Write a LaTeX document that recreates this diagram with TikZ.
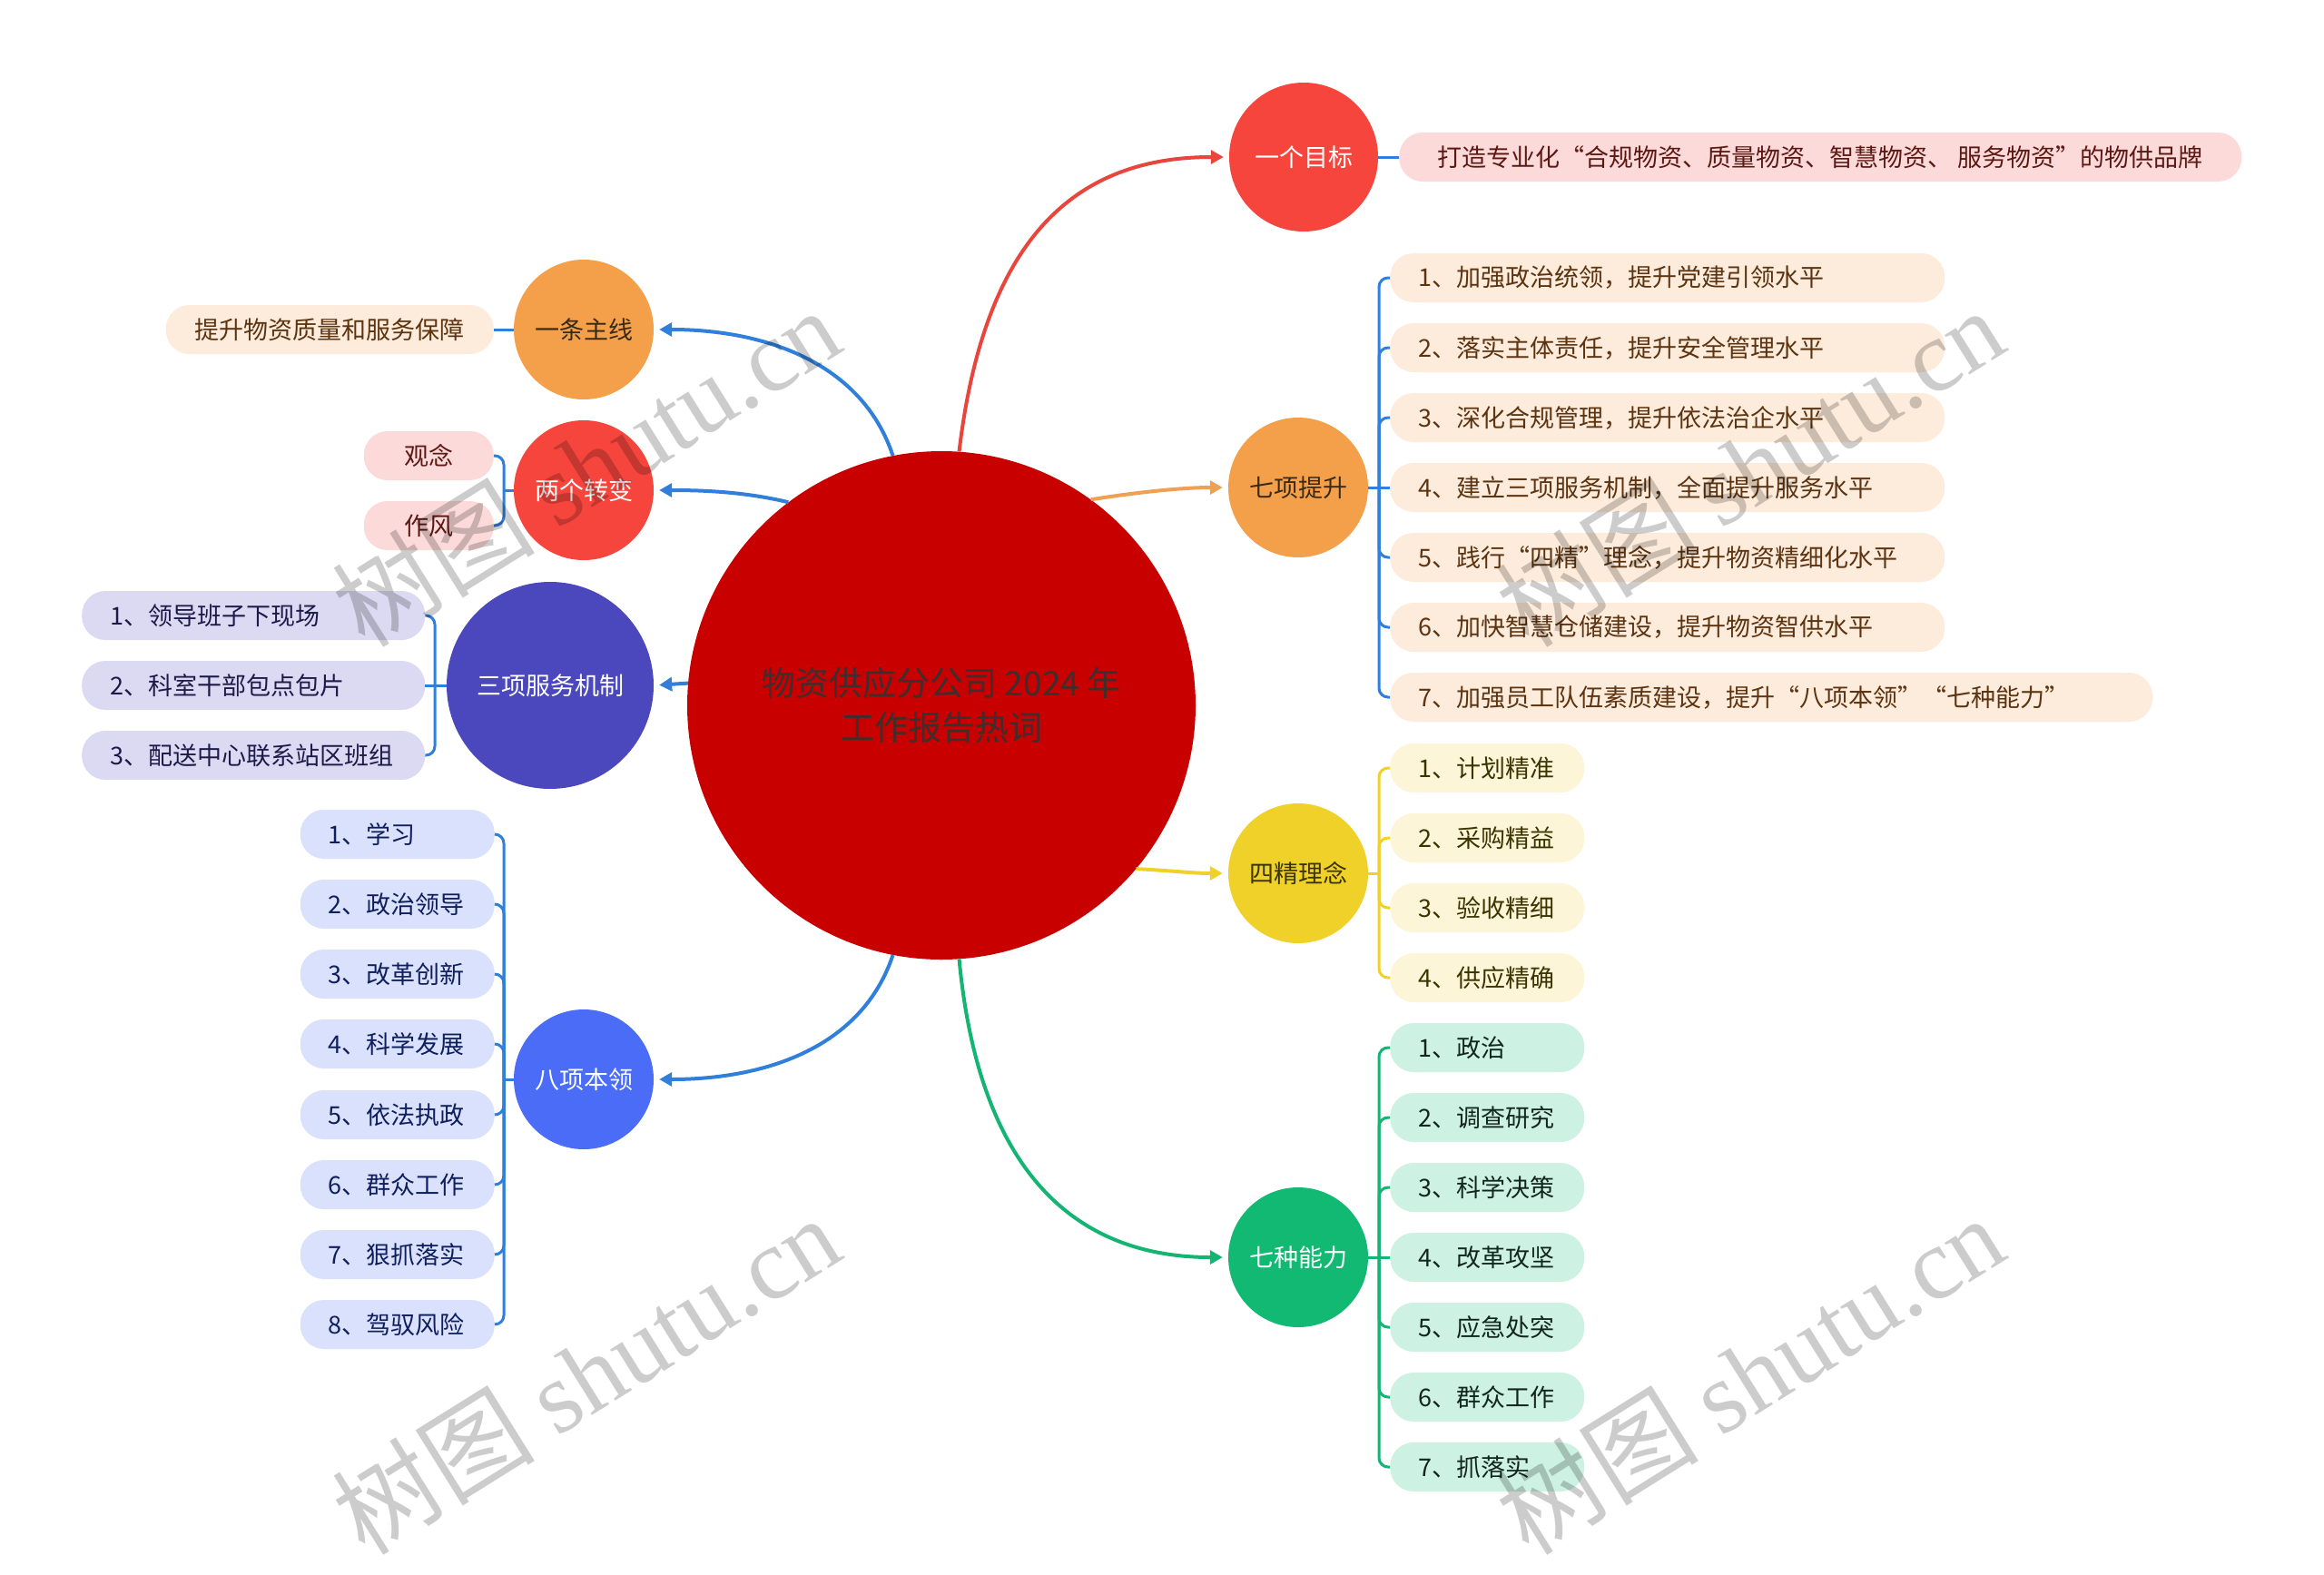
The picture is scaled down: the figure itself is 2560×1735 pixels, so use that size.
\documentclass[tikz,border=0pt]{standalone}
\usepackage{fontspec}
\setmainfont{Noto Sans CJK SC}
\newfontfamily\wmlatin{Liberation Serif}
\usetikzlibrary{arrows.meta,calc}
\definecolor{cCenter}{HTML}{C80000}
\definecolor{cCenterTxt}{HTML}{3E2E2E}
\definecolor{cRed}{HTML}{F6453C}
\definecolor{cOrange}{HTML}{F4A04B}
\definecolor{cYellow}{HTML}{F0D12A}
\definecolor{cGreen}{HTML}{12B972}
\definecolor{cIndigo}{HTML}{4B48BD}
\definecolor{cBlue}{HTML}{4A6CF6}
\definecolor{lnBlue}{HTML}{2F7FDB}
\definecolor{lnRed}{HTML}{E8463D}
\definecolor{lnOrange}{HTML}{F0A052}
\definecolor{lnYellow}{HTML}{F0D12A}
\definecolor{lnGreen}{HTML}{14B573}
\definecolor{fPink}{HTML}{FCDADA}
\definecolor{tPink}{HTML}{5C1812}
\definecolor{fPeach}{HTML}{FDEBDB}
\definecolor{tPeach}{HTML}{5C3411}
\definecolor{fYel}{HTML}{FDF5D8}
\definecolor{tYel}{HTML}{3B3400}
\definecolor{fMint}{HTML}{CDF1E2}
\definecolor{tMint}{HTML}{12261C}
\definecolor{fLav}{HTML}{DCDAF2}
\definecolor{tLav}{HTML}{1C1A48}
\definecolor{fSky}{HTML}{D9E1FC}
\definecolor{tSky}{HTML}{0F1F5E}
\definecolor{tDark}{HTML}{3A2A14}
\newcommand{\mmfs}{\fontsize{27}{32}\selectfont}
\begin{document}
\begin{tikzpicture}[x=1pt,y=-1pt,
  topic/.style={circle, inner sep=0pt, minimum size=154pt, font=\mmfs},
  pill/.style={rounded corners=26pt, minimum height=54pt, inner xsep=31pt, inner ysep=0pt, font=\mmfs},
  conn/.style={line width=4pt, -{Triangle[length=14pt,width=15pt]}, shorten >=6pt},
  brk/.style={line width=3pt},
  wm/.style={rotate=32, text=black, text opacity=0.2, inner sep=0pt, font=\fontsize{112}{112}\selectfont}]
\fill[white] (0,0) rectangle (2560,1735);
\useasboundingbox (0,0) rectangle (2560,1735);

% centre
\node[circle, fill=cCenter, minimum size=560pt, inner sep=0pt, text=cCenterTxt, align=center, font=\fontsize{37}{49}\selectfont] (c0) at (1037,777) {物资供应分公司 2024 年\\工作报告热词};

% topics right
\node[topic, fill=cRed, text=white, minimum size=164pt] (t1) at (1436,173) {一个目标};
\node[topic, fill=cOrange, text=tDark] (t2) at (1430,537) {七项提升};
\node[topic, fill=cYellow, text=tYel] (t3) at (1430,962) {四精理念};
\node[topic, fill=cGreen, text=white] (t4) at (1430,1385) {七种能力};
% topics left
\node[topic, fill=cOrange, text=tDark] (t5) at (643,363) {一条主线};
\node[topic, fill=cRed, text=white] (t6) at (643,540) {两个转变};
\node[topic, fill=cIndigo, text=white, minimum size=228pt] (t7) at (606,755) {三项服务机制};
\node[topic, fill=cBlue, text=white] (t8) at (643,1189) {八项本领};

% main connectors
\draw[conn, lnRed] (c0.86) .. controls +(28,-237) and +(-168,0) .. (t1.west);
\draw[conn, lnOrange] (c0.54) .. controls +(50,-8) and +(-50,0) .. (t2.west);
\draw[conn, lnYellow] (c0.-40) .. controls +(40,2) and +(-40,0) .. (t3.west);
\draw[conn, lnGreen] (c0.-86) .. controls +(22,235) and +(-168,0) .. (t4.west);
\draw[conn, lnBlue] (c0.101) .. controls +(-34,-102) and +(123,0) .. (t5.east);
\draw[conn, lnBlue] (c0.127) .. controls +(-50,-12) and +(50,0) .. (t6.east);
\draw[conn, lnBlue] (c0.175.5) -- (t7.east);
\draw[conn, lnBlue] (c0.-101) .. controls +(-34,102) and +(123,0) .. (t8.east);

% 一个目标
\node[pill, fill=fPink, text=tPink, minimum width=928pt, anchor=west] (p1) at (1541,173) {打造专业化“合规物资、质量物资、智慧物资、 服务物资”的物供品牌};
\draw[brk, lnBlue] (t1.east) -- (p1.west);

% 七项提升
\begin{scope}[every node/.style={pill, fill=fPeach, text=tPeach, text width=549pt, align=left, anchor=west}]
\node (q21) at (1531,306) {1、加强政治统领，提升党建引领水平};
\node (q22) at (1531,383) {2、落实主体责任，提升安全管理水平};
\node (q23) at (1531,460) {3、深化合规管理，提升依法治企水平};
\node (q24) at (1531,537) {4、建立三项服务机制，全面提升服务水平};
\node (q25) at (1531,614) {5、践行“四精”理念，提升物资精细化水平};
\node (q26) at (1531,691) {6、加快智慧仓储建设，提升物资智供水平};
\node[text width=778pt] (q27) at (1531,768) {7、加强员工队伍素质建设，提升“八项本领”“七种能力”};
\end{scope}
\coordinate (b2) at (1519,537);
\draw[brk, lnBlue] (t2.east) -- (q24.west);
\foreach \i in {1,2,3,5,6,7} \draw[brk, lnBlue, rounded corners=10pt] (b2) |- (q2\i.west);

% 四精理念
\begin{scope}[every node/.style={pill, fill=fYel, text=tYel, text width=152pt, align=left, anchor=west}]
\node (q31) at (1531,846) {1、计划精准};
\node (q32) at (1531,923) {2、采购精益};
\node (q33) at (1531,1000) {3、验收精细};
\node (q34) at (1531,1077) {4、供应精确};
\end{scope}
\coordinate (b3) at (1519,962);
\draw[brk, lnYellow] (t3.east) -- (b3);
\foreach \i in {1,2,3,4} \draw[brk, lnYellow, rounded corners=10pt] (b3) |- (q3\i.west);

% 七种能力
\begin{scope}[every node/.style={pill, fill=fMint, text=tMint, text width=152pt, align=left, anchor=west}]
\node (q41) at (1531,1154) {1、政治};
\node (q42) at (1531,1231) {2、调查研究};
\node (q43) at (1531,1308) {3、科学决策};
\node (q44) at (1531,1385) {4、改革攻坚};
\node (q45) at (1531,1462) {5、应急处突};
\node (q46) at (1531,1539) {6、群众工作};
\node (q47) at (1531,1616) {7、抓落实};
\end{scope}
\coordinate (b4) at (1519,1385);
\draw[brk, lnGreen] (t4.east) -- (q44.west);
\foreach \i in {1,2,3,5,6,7} \draw[brk, lnGreen, rounded corners=10pt] (b4) |- (q4\i.west);

% 一条主线
\node[pill, fill=fPeach, text=tPeach, inner xsep=32pt, anchor=east] (p5) at (544,363) {提升物资质量和服务保障};
\draw[brk, lnBlue] (t5.west) -- (p5.east);

% 两个转变
\begin{scope}[every node/.style={pill, fill=fPink, text=tPink, minimum width=143pt, anchor=east}]
\node (q61) at (544,502) {观念};
\node (q62) at (544,579) {作风};
\end{scope}
\coordinate (b6) at (555,540);
\draw[brk, lnBlue] (t6.west) -- (b6);
\foreach \i in {1,2} \draw[brk, lnBlue, rounded corners=10pt] (b6) |- (q6\i.east);

% 三项服务机制
\begin{scope}[every node/.style={pill, fill=fLav, text=tLav, text width=316pt, align=left, anchor=west}]
\node (q71) at (90,678) {1、领导班子下现场};
\node (q72) at (90,755) {2、科室干部包点包片};
\node (q73) at (90,832) {3、配送中心联系站区班组};
\end{scope}
\coordinate (b7) at (479,755);
\draw[brk, lnBlue] (t7.west) -- (q72.east);
\foreach \i in {1,3} \draw[brk, lnBlue, rounded corners=10pt] (b7) |- (q7\i.east);

% 八项本领
\begin{scope}[every node/.style={pill, fill=fSky, text=tSky, text width=152pt, align=left, anchor=east}]
\node (q81) at (545,919) {1、学习};
\node (q82) at (545,996) {2、政治领导};
\node (q83) at (545,1073) {3、改革创新};
\node (q84) at (545,1150) {4、科学发展};
\node (q85) at (545,1228) {5、依法执政};
\node (q86) at (545,1305) {6、群众工作};
\node (q87) at (545,1382) {7、狠抓落实};
\node (q88) at (545,1459) {8、驾驭风险};
\end{scope}
\coordinate (b8) at (555,1189);
\draw[brk, lnBlue] (t8.west) -- (b8);
\foreach \i in {1,...,8} \draw[brk, lnBlue, rounded corners=10pt] (b8) |- (q8\i.east);

% watermarks
\node[wm] (w1) at (645,514) {树图 {\wmlatin shutu.cn}};
\node[wm] (w2) at (645,1514) {树图 {\wmlatin shutu.cn}};
\node[wm] (w3) at (1927,514) {树图 {\wmlatin shutu.cn}};
\node[wm] (w4) at (1927,1514) {树图 {\wmlatin shutu.cn}};
\end{tikzpicture}
\end{document}
